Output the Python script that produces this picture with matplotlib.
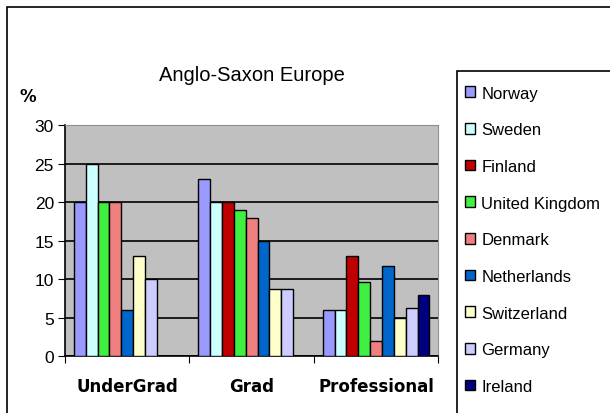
import numpy as np
import matplotlib
matplotlib.use("Agg")
import matplotlib.pyplot as plt
from matplotlib.patches import Rectangle

# categories and series (NaN = no bar drawn in that group)
categories = ["UnderGrad", "Grad", "Professional"]
countries = ["Norway", "Sweden", "Finland", "United Kingdom", "Denmark",
             "Netherlands", "Switzerland", "Germany", "Ireland"]
norway = [20, 23, 6]
sweden = [25, 20, 6]
finland = [np.nan, 20, 13]
uk = [20, 19, 9.6]
denmark = [20, 18, 2]
netherlands = [6, 15, 11.7]
switzerland = [13, 8.8, 5]
germany = [10, 8.8, 6.3]
ireland = [np.nan, np.nan, 8]
colors = ["#9999FF", "#CCFFFF", "#C00000", "#40F040", "#F08080",
          "#0066CC", "#FFFFCC", "#CCCCFF", "#000080"]
yticks = [0, 5, 10, 15, 20, 25, 30]

series = [norway, sweden, finland, uk, denmark, netherlands,
          switzerland, germany, ireland]

sans = ["Liberation Sans", "DejaVu Sans"]

fig = plt.figure(figsize=(6.1, 4.14), dpi=100)
ax = fig.add_axes([0.1066, 0.1365, 0.612, 0.559])
ax.set_facecolor("#C0C0C0")

# Excel-like layout: gap width 150%, bars packed left in each group
n = len(series)
w = 1 / (n + 1.5)
for ci in range(len(categories)):
    slot = 0
    for si in range(n):
        v = series[si][ci]
        if np.isnan(v):
            continue
        ax.bar(ci + 0.75 * w + slot * w, v, width=w, align="edge",
               color=colors[si], edgecolor="black", linewidth=1, zorder=3)
        slot += 1

ax.set_xlim(0, len(categories))
ax.set_ylim(0, 30)
ax.set_yticks(yticks)
ax.set_yticklabels([str(t) for t in yticks], family=sans, fontsize=12.5)
ax.yaxis.grid(True, color="black", linewidth=1.2, zorder=1)
ax.set_axisbelow(True)
ax.set_xticks(range(len(categories) + 1))
ax.set_xticklabels([])
ax.set_xticks([i + 0.5 for i in range(len(categories))], minor=True)
ax.set_xticklabels(categories, minor=True, fontweight="bold", fontsize=12)
ax.tick_params(axis="x", which="minor", length=0, pad=15)
ax.tick_params(axis="x", which="major", length=5, direction="out")
ax.tick_params(axis="y", length=5, direction="out", pad=3)
for s in ["top", "right"]:
    ax.spines[s].set_color("#909090")
for s in ["left", "bottom"]:
    ax.spines[s].set_color("black")
    ax.spines[s].set_linewidth(1.2)

fig.text(0.413, 0.818, "Anglo-Saxon Europe", ha="center", va="center",
         family=sans, fontsize=14.5)
fig.text(0.046, 0.765, "%", ha="center", va="center", fontweight="bold",
         fontsize=12)

# chart frame and legend frame (image is cropped at right and bottom)
fig.patches.append(Rectangle((7 / 610, -0.1), 1.2, 1 - 8 / 414 + 0.1,
                             transform=fig.transFigure, fill=False,
                             edgecolor="black", linewidth=1.2))
fig.patches.append(Rectangle((0.749, -0.1), 0.5, 0.926,
                             transform=fig.transFigure, fill=False,
                             edgecolor="black", linewidth=1.2))

handles = [Rectangle((0, 0), 1, 1, facecolor=c, edgecolor="black", linewidth=1)
           for c in colors]
leg = fig.legend(handles, countries, loc="upper left",
                 bbox_to_anchor=(0.738, 0.826), prop={"family": sans, "size": 12},
                 handlelength=0.6, handleheight=0.6, handletextpad=0.4,
                 labelspacing=1.3, borderpad=0.87, borderaxespad=0,
                 frameon=False)

fig.savefig("out.png", dpi=100)
